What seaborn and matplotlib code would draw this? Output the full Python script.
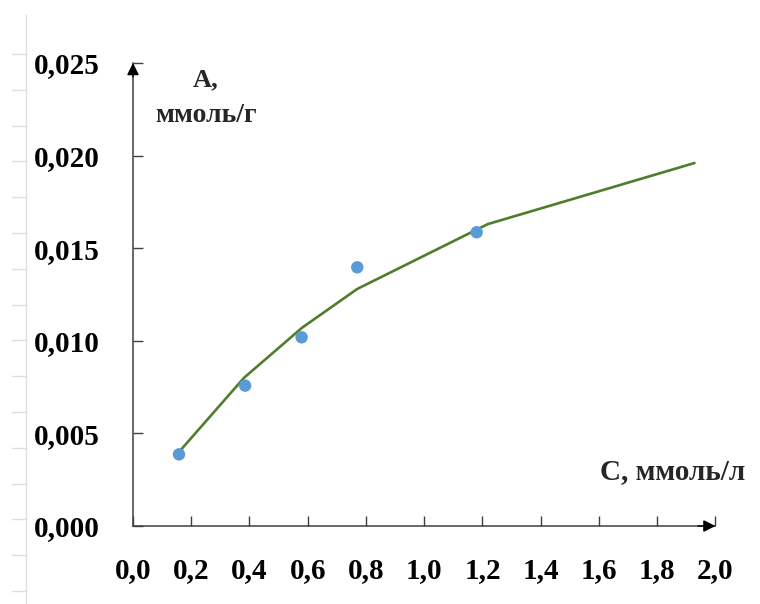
import matplotlib
matplotlib.use("Agg")
import matplotlib.pyplot as plt
from matplotlib.lines import Line2D
import numpy as np
import pandas as pd
import seaborn as sns

# ---- data ----
c_points = [0.158, 0.385, 0.579, 0.770, 1.180]
a_points = [0.00387, 0.00758, 0.01019, 0.01397, 0.01586]

c_curve = [0.158, 0.381, 0.580, 0.770, 1.218, 1.928]
a_curve = [0.0040, 0.0080, 0.0107, 0.0128, 0.0163, 0.0196]

x_ticks = [0.0, 0.2, 0.4, 0.6, 0.8, 1.0, 1.2, 1.4, 1.6, 1.8, 2.0]
x_ticklabels = ["0,0", "0,2", "0,4", "0,6", "0,8", "1,0", "1,2", "1,4", "1,6", "1,8", "2,0"]
y_ticks = [0.000, 0.005, 0.010, 0.015, 0.020, 0.025]
y_ticklabels = ["0,000", "0,005", "0,010", "0,015", "0,020", "0,025"]

y_title_1 = "А,"
y_title_2 = "ммоль/г"
x_title = "С, ммоль/л"

sns.set_theme(style="white")
plt.rcParams["font.family"] = ["Liberation Serif", "DejaVu Serif"]

fig = plt.figure(figsize=(7.6, 6.04), dpi=100)
ax = fig.add_axes([0.175, 0.1291, 0.9414 - 0.175, 0.8957 - 0.1291])
ax.set_facecolor("white")

df_curve = pd.DataFrame({"C": c_curve, "A": a_curve})
df_pts = pd.DataFrame({"C": c_points, "A": a_points})

sns.lineplot(data=df_curve, x="C", y="A", ax=ax, sort=False, estimator=None,
             color="#4f7d2c", linewidth=1.9, zorder=2)
sns.scatterplot(data=df_pts, x="C", y="A", ax=ax, color="#5b9bd5", s=80,
                edgecolor="none", zorder=3)

ax.set_xlim(0, 2.0)
ax.set_ylim(0, 0.025)
ax.set_xticks(x_ticks)
ax.set_xticklabels(x_ticklabels)
ax.set_yticks(y_ticks)
ax.set_yticklabels(y_ticklabels)
ax.set_xlabel("")
ax.set_ylabel("")

for s in ["top", "right"]:
    ax.spines[s].set_visible(False)
for s in ["left", "bottom"]:
    ax.spines[s].set_color("#404040")
    ax.spines[s].set_linewidth(1.1)

ax.tick_params(axis="both", direction="in", length=7, width=1.0, color="#404040",
               labelsize=21, labelcolor="black", bottom=True, left=True)
ax.tick_params(axis="y", pad=24)
ax.tick_params(axis="x", pad=22)
for lab in ax.get_xticklabels() + ax.get_yticklabels():
    lab.set_fontweight("bold")

# arrowheads at spine ends
ax.annotate("", xy=(1.0, 0.0), xytext=(0.97, 0.0), xycoords="axes fraction",
            arrowprops=dict(arrowstyle="-|>", color="black", lw=1.0,
                            mutation_scale=18, shrinkA=0, shrinkB=0),
            annotation_clip=False)
ax.annotate("", xy=(0.0, 1.0), xytext=(0.0, 0.97), xycoords="axes fraction",
            arrowprops=dict(arrowstyle="-|>", color="black", lw=1.0,
                            mutation_scale=18, shrinkA=0, shrinkB=0),
            annotation_clip=False)

# axis titles
fig.text(206 / 760, 1 - 80 / 604, y_title_1, ha="center", va="center",
         fontsize=19, fontweight="bold")
fig.text(206 / 760, 1 - 115 / 604, y_title_2, ha="center", va="center",
         fontsize=20, fontweight="bold")
fig.text(673 / 760, 1 - 472 / 604, x_title, ha="center", va="center",
         fontsize=21, fontweight="bold")

# faint ruler on the left edge of the scan
ruler_color = "#dedede"
fig.add_artist(Line2D([26 / 760, 26 / 760], [1 - 15 / 604, 0], color=ruler_color, lw=1.0))
for yy in np.arange(54, 604, 35.8):
    fig.add_artist(Line2D([12 / 760, 26 / 760], [1 - yy / 604, 1 - yy / 604],
                          color=ruler_color, lw=1.0))

fig.savefig("out.png", dpi=100, facecolor="white")
